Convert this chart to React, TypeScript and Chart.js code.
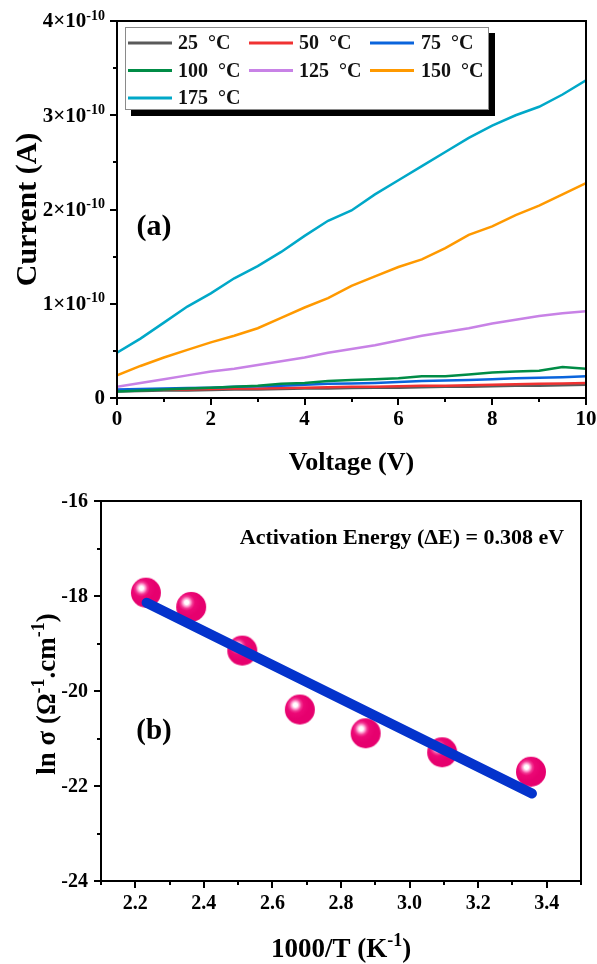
import React, { useEffect, useRef } from 'react';
import { Chart, registerables } from 'chart.js';
Chart.register(...registerables);

const FF = '"Liberation Serif", "Times New Roman", "DejaVu Serif", serif';

// ---------- Panel (a): I–V curves ----------
const voltage = [0, 0.5, 1, 1.5, 2, 2.5, 3, 3.5, 4, 4.5, 5, 5.5, 6, 6.5, 7, 7.5, 8, 8.5, 9, 9.5, 10];
const CURRENT_UNIT = 1e-10;
const i25 = [0.07, 0.075, 0.08, 0.08, 0.085, 0.09, 0.09, 0.095, 0.1, 0.1, 0.105, 0.11, 0.11, 0.115, 0.12, 0.12, 0.125, 0.13, 0.13, 0.135, 0.14];
const i50 = [0.08, 0.085, 0.09, 0.09, 0.095, 0.1, 0.1, 0.105, 0.11, 0.115, 0.12, 0.12, 0.125, 0.13, 0.13, 0.135, 0.14, 0.145, 0.15, 0.155, 0.16];
const i75 = [0.09, 0.095, 0.1, 0.105, 0.11, 0.12, 0.125, 0.13, 0.14, 0.15, 0.155, 0.16, 0.17, 0.18, 0.185, 0.19, 0.2, 0.21, 0.215, 0.22, 0.23];
const i100 = [0.07, 0.08, 0.09, 0.1, 0.11, 0.12, 0.13, 0.15, 0.16, 0.18, 0.19, 0.2, 0.21, 0.23, 0.23, 0.25, 0.27, 0.28, 0.29, 0.33, 0.31];
const i125 = [0.12, 0.16, 0.2, 0.24, 0.28, 0.31, 0.35, 0.39, 0.43, 0.48, 0.52, 0.56, 0.61, 0.66, 0.7, 0.74, 0.79, 0.83, 0.87, 0.9, 0.92];
const i150 = [0.24, 0.34, 0.43, 0.51, 0.59, 0.66, 0.74, 0.85, 0.96, 1.06, 1.19, 1.29, 1.39, 1.47, 1.59, 1.73, 1.82, 1.94, 2.04, 2.16, 2.28];
const i175 = [0.48, 0.63, 0.8, 0.97, 1.11, 1.27, 1.4, 1.55, 1.72, 1.88, 1.99, 2.16, 2.31, 2.46, 2.61, 2.76, 2.89, 3.0, 3.09, 3.22, 3.37];
const seriesA = [i25, i50, i75, i100, i125, i150, i175];
const seriesLabelsA = ['25  °C', '50  °C', '75  °C', '100  °C', '125  °C', '150  °C', '175  °C'];
const seriesColorsA = ['#5a5a5a', '#f03232', '#0a64dc', '#008c46', '#c882e6', '#ff9900', '#00a8c8'];
const xMajorA = [0, 2, 4, 6, 8, 10];
const xMinorA = [1, 3, 5, 7, 9];
const yMajorA = [0, 1e-10, 2e-10, 3e-10, 4e-10];
const yMinorA = [0.5e-10, 1.5e-10, 2.5e-10, 3.5e-10];
const yTickBaseA = ['0', '1×10', '2×10', '3×10', '4×10'];
const yTickExpA = ['', '-10', '-10', '-10', '-10'];

// ---------- Panel (b): Arrhenius plot ----------
const invT = [2.231, 2.363, 2.512, 2.68, 2.872, 3.095, 3.354];
const lnSigma = [-17.93, -18.23, -19.15, -20.39, -20.89, -21.29, -21.7];
const fitX = [2.233, 3.357];
const fitY = [-18.14, -22.16];
const xMajorB = [2.2, 2.4, 2.6, 2.8, 3.0, 3.2, 3.4];
const xMinorB = [2.1, 2.3, 2.5, 2.7, 2.9, 3.1, 3.3, 3.5];
const yMajorB = [-24, -22, -20, -18, -16];
const yMinorB = [-23, -21, -19, -17];
const xTickLabelsB = ['2.2', '2.4', '2.6', '2.8', '3.0', '3.2', '3.4'];

type Seg = { t: string; sup?: boolean };

function drawRich(ctx: CanvasRenderingContext2D, segs: Seg[], cx: number, cy: number, size: number, supSize: number, supRise: number, rot: number) {
  ctx.save();
  ctx.translate(cx, cy);
  ctx.rotate(rot);
  const ws = segs.map((s) => {
    ctx.font = `bold ${s.sup ? supSize : size}px ${FF}`;
    return ctx.measureText(s.t).width;
  });
  const total = ws.reduce((a, b) => a + b, 0);
  let x = -total / 2;
  ctx.textAlign = 'left';
  ctx.textBaseline = 'alphabetic';
  ctx.fillStyle = '#000';
  const base = size * 0.34;
  segs.forEach((s, i) => {
    ctx.font = `bold ${s.sup ? supSize : size}px ${FF}`;
    ctx.fillText(s.t, x, s.sup ? base - supRise : base);
    x += ws[i];
  });
  ctx.restore();
}

function drawFrameTicks(chart: any, xMajor: number[], xMinor: number[], yMajor: number[], yMinor: number[]) {
  const { ctx, chartArea: ca } = chart;
  const xs = chart.scales.x;
  const ys = chart.scales.y;
  ctx.save();
  ctx.strokeStyle = '#000';
  ctx.lineWidth = 2;
  ctx.strokeRect(ca.left, ca.top, ca.right - ca.left, ca.bottom - ca.top);
  ctx.beginPath();
  xMajor.forEach((v) => {
    const x = Math.round(xs.getPixelForValue(v));
    ctx.moveTo(x, ca.bottom);
    ctx.lineTo(x, ca.bottom + 7);
  });
  xMinor.forEach((v) => {
    const x = Math.round(xs.getPixelForValue(v));
    ctx.moveTo(x, ca.bottom);
    ctx.lineTo(x, ca.bottom + 4);
  });
  yMajor.forEach((v) => {
    const y = Math.round(ys.getPixelForValue(v));
    ctx.moveTo(ca.left, y);
    ctx.lineTo(ca.left - 7, y);
  });
  yMinor.forEach((v) => {
    const y = Math.round(ys.getPixelForValue(v));
    ctx.moveTo(ca.left, y);
    ctx.lineTo(ca.left - 4, y);
  });
  ctx.stroke();
  ctx.restore();
}

const decoA = {
  id: 'decoA',
  afterDraw(chart: any) {
    const { ctx, chartArea: ca } = chart;
    const xs = chart.scales.x;
    const ys = chart.scales.y;
    drawFrameTicks(chart, xMajorA, xMinorA, yMajorA, yMinorA);
    ctx.save();
    ctx.fillStyle = '#000';
    ctx.font = `bold 21px ${FF}`;
    ctx.textAlign = 'center';
    ctx.textBaseline = 'middle';
    xMajorA.forEach((v) => {
      ctx.fillText(String(v), xs.getPixelForValue(v), ca.bottom + 22);
    });
    yMajorA.forEach((v, i) => {
      const y = ys.getPixelForValue(v);
      const right = ca.left - 12;
      ctx.font = `bold 21px ${FF}`;
      const wb = ctx.measureText(yTickBaseA[i]).width;
      ctx.font = `bold 14px ${FF}`;
      const we = yTickExpA[i] ? ctx.measureText(yTickExpA[i]).width : 0;
      const x0 = right - wb - we;
      ctx.textAlign = 'left';
      ctx.font = `bold 21px ${FF}`;
      ctx.fillText(yTickBaseA[i], x0, y + 1);
      if (yTickExpA[i]) {
        ctx.font = `bold 14px ${FF}`;
        ctx.fillText(yTickExpA[i], x0 + wb, y - 5);
      }
    });
    ctx.restore();
    drawRich(ctx, [{ t: 'Voltage (V)' }], (ca.left + ca.right) / 2, ca.bottom + 63, 26, 17, 10, 0);
    drawRich(ctx, [{ t: 'Current (A)' }], 26, (ca.top + ca.bottom) / 2, 30, 19, 10, -Math.PI / 2);
    ctx.save();
    ctx.font = `bold 30px ${FF}`;
    ctx.textAlign = 'center';
    ctx.textBaseline = 'middle';
    ctx.fillStyle = '#000';
    ctx.fillText('(a)', 154, 227);
    ctx.restore();
    // legend
    ctx.save();
    const bx = 125, by = 27, bw = 364, bh = 83;
    ctx.fillStyle = '#000';
    ctx.fillRect(bx + 6, by + 6, bw, bh);
    ctx.fillStyle = '#fff';
    ctx.fillRect(bx, by, bw, bh);
    ctx.strokeStyle = '#8a8a8a';
    ctx.lineWidth = 1;
    ctx.strokeRect(bx + 0.5, by + 0.5, bw - 1, bh - 1);
    const colLine = [128, 249, 370];
    const colText = [178, 299, 421];
    const rowY = [43, 70.5, 98];
    ctx.font = `bold 20px ${FF}`;
    ctx.textAlign = 'left';
    ctx.textBaseline = 'middle';
    seriesLabelsA.forEach((lab, i) => {
      const c = i % 3;
      const r = Math.floor(i / 3);
      ctx.strokeStyle = seriesColorsA[i];
      ctx.lineWidth = 3;
      ctx.beginPath();
      ctx.moveTo(colLine[c], rowY[r]);
      ctx.lineTo(colLine[c] + 44, rowY[r]);
      ctx.stroke();
      ctx.fillStyle = '#111';
      ctx.fillText(lab, colText[c], rowY[r] + 1);
    });
    ctx.restore();
  },
};

const decoB = {
  id: 'decoB',
  afterDraw(chart: any) {
    const { ctx, chartArea: ca } = chart;
    const xs = chart.scales.x;
    const ys = chart.scales.y;
    drawFrameTicks(chart, xMajorB, xMinorB, yMajorB, yMinorB);
    ctx.save();
    ctx.fillStyle = '#000';
    ctx.font = `bold 20px ${FF}`;
    ctx.textAlign = 'center';
    ctx.textBaseline = 'middle';
    xMajorB.forEach((v, i) => {
      ctx.fillText(xTickLabelsB[i], xs.getPixelForValue(v), ca.bottom + 23);
    });
    ctx.textAlign = 'right';
    yMajorB.forEach((v) => {
      ctx.fillText(String(v), ca.left - 13, ys.getPixelForValue(v) + 1);
    });
    ctx.restore();
    drawRich(ctx, [{ t: '1000/T (K' }, { t: '-1', sup: true }, { t: ')' }], (ca.left + ca.right) / 2, ca.bottom + 67, 27, 18, 11, 0);
    drawRich(
      ctx,
      [{ t: 'ln σ (Ω' }, { t: '-1', sup: true }, { t: '.cm' }, { t: '-1', sup: true }, { t: ')' }],
      46,
      (ca.top + ca.bottom) / 2 + 3,
      27,
      18,
      11,
      -Math.PI / 2
    );
    drawRich(ctx, [{ t: 'Activation Energy (ΔE) = 0.308 eV' }], 402, 57, 22, 14, 8, 0);
    ctx.save();
    ctx.font = `bold 29px ${FF}`;
    ctx.textAlign = 'center';
    ctx.textBaseline = 'middle';
    ctx.fillStyle = '#000';
    ctx.fillText('(b)', 154, 252);
    ctx.restore();
  },
};

function makeSphere(r: number): HTMLCanvasElement {
  const c = document.createElement('canvas');
  const size = 2 * r + 2;
  c.width = size;
  c.height = size;
  const g = c.getContext('2d') as CanvasRenderingContext2D;
  const cx = size / 2;
  const cy = size / 2;
  const hx = cx - 4.5;
  const hy = cy - 4.5;
  const grad = g.createRadialGradient(hx, hy, 0, hx, hy, r * 0.95);
  grad.addColorStop(0, '#ffffff');
  grad.addColorStop(0.14, '#ffffff');
  grad.addColorStop(0.27, '#ffa6d4');
  grad.addColorStop(0.42, '#f23a94');
  grad.addColorStop(0.58, '#ec0876');
  grad.addColorStop(1, '#e6006e');
  g.fillStyle = grad;
  g.beginPath();
  g.arc(cx, cy, r, 0, Math.PI * 2);
  g.fill();
  return c;
}

export default function App() {
  const refA = useRef<HTMLCanvasElement>(null);
  const refB = useRef<HTMLCanvasElement>(null);

  useEffect(() => {
    const chartA = new Chart(refA.current as HTMLCanvasElement, {
      type: 'scatter',
      data: {
        datasets: seriesA.map((s, k) => ({
          label: seriesLabelsA[k],
          data: s.map((v, i) => ({ x: voltage[i], y: v * CURRENT_UNIT })),
          showLine: true,
          borderColor: seriesColorsA[k],
          backgroundColor: seriesColorsA[k],
          borderWidth: 2.5,
          pointRadius: 0,
          tension: 0,
          order: 6 - k,
        })),
      },
      options: {
        responsive: false,
        animation: false,
        layout: { padding: { left: 117, top: 21, right: 11, bottom: 82 } },
        plugins: { legend: { display: false }, tooltip: { enabled: false } },
        scales: {
          x: { type: 'linear', display: false, min: 0, max: 10 },
          y: { type: 'linear', display: false, min: 0, max: 4e-10 },
        },
      },
      plugins: [decoA],
    } as any);

    const sphere = makeSphere(15);
    const chartB = new Chart(refB.current as HTMLCanvasElement, {
      type: 'scatter',
      data: {
        datasets: [
          {
            label: 'Linear fit',
            data: fitX.map((x, i) => ({ x, y: fitY[i] })),
            showLine: true,
            borderColor: '#0433cc',
            borderWidth: 10,
            borderCapStyle: 'round',
            pointRadius: 0,
            order: 0,
          },
          {
            label: 'ln σ',
            data: invT.map((x, i) => ({ x, y: lnSigma[i] })),
            pointStyle: sphere,
            pointRadius: 15,
            backgroundColor: '#e6006e',
            borderColor: '#e6006e',
            order: 1,
          },
        ],
      },
      options: {
        responsive: false,
        animation: false,
        layout: { padding: { left: 101, top: 21, right: 14, bottom: 83 } },
        plugins: { legend: { display: false }, tooltip: { enabled: false } },
        scales: {
          x: { type: 'linear', display: false, min: 2.1, max: 3.5 },
          y: { type: 'linear', display: false, min: -24, max: -16 },
        },
      },
      plugins: [decoB],
    } as any);

    return () => {
      chartA.destroy();
      chartB.destroy();
    };
  }, []);

  return (
    <div style={{ position: 'absolute', left: 0, top: 0, width: 597, height: 964, background: '#fff' }}>
      <canvas ref={refA} width={597} height={480} style={{ position: 'absolute', left: 0, top: 0, width: 597, height: 480 }} />
      <canvas ref={refB} width={597} height={484} style={{ position: 'absolute', left: 0, top: 480, width: 597, height: 484 }} />
    </div>
  );
}
